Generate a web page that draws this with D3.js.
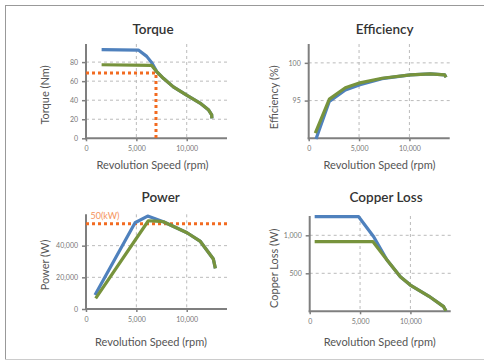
<!DOCTYPE html>
<html>
<head>
<meta charset="utf-8">
<script src="https://cdn.jsdelivr.net/npm/d3@7"></script>
<style>
body { margin: 0; background: #fff; }
text { font-family: Lato, "Open Sans", sans-serif; }
</style>
</head>
<body>
<script>
const width = 484;
const height = 361;

// torque (Nm)
const torqueRpmA = [1550, 5200, 6030, 6550, 7020, 7680, 8670, 10030, 11320, 12150, 12480, 12500];
const torqueA = [93, 92.6, 86, 79, 70, 63, 54, 45, 37, 30, 24.5, 21];
const torqueRpmB = [1550, 6520, 7020, 7680, 8670, 10030, 11320, 12150, 12480, 12500];
const torqueB = [77.2, 76.5, 70, 63, 54, 45, 37, 30, 24.5, 21];
const torqueRef = [6950, 68.5];

// efficiency (%)
const effRpmA = [725, 2050, 3640, 5090, 7280, 10090, 12080, 13510, 13640];
const effA = [89.9, 94.9, 96.4, 97.1, 97.9, 98.4, 98.55, 98.4, 98.1];
const effRpmB = [655, 2050, 3640, 5090, 7280, 10090, 12080, 13510, 13640];
const effB = [90.7, 95.2, 96.7, 97.35, 97.96, 98.4, 98.55, 98.4, 98.1];

// power (W)
const powRpmA = [894, 4870, 6120, 7680, 10030, 11320, 12645, 12845];
const powA = [8830, 54470, 58680, 55100, 48160, 42900, 31550, 25680];
const powRpmB = [960, 6190, 7350, 7680, 10030, 11320, 12645, 12845];
const powB = [6750, 55730, 55300, 55100, 48160, 42900, 31550, 25680];
const powRef = 53800;
const powRefLabel = '50(kW)';

// copper loss (W)
const cuRpmA = [493, 4863, 6352, 7676, 9000, 9990, 11810, 13300, 13535];
const cuA = [1245, 1245, 982, 675, 455, 346, 201, 61, 4];
const cuRpmB = [493, 6286, 7676, 9000, 9990, 11810, 13300, 13535];
const cuB = [916, 916, 675, 455, 346, 201, 61, 4];

const xTicks = [0, 5000, 10000];

const svg = d3.select('body').append('svg').attr('width', width).attr('height', height);

// frame
svg.append('line').attr('x1', 5).attr('x2', width).attr('y1', 5.5).attr('y2', 5.5).attr('stroke', '#999');
svg.append('line').attr('x1', 5.5).attr('x2', 5.5).attr('y1', 5).attr('y2', 359).attr('stroke', '#999');
svg.append('line').attr('x1', 5).attr('x2', width).attr('y1', 359.5).attr('y2', 359.5).attr('stroke', '#ccc');

const panels = [
  {title: 'Torque', ylab: 'Torque (Nm)', left: 86, top: 44, bottom: 138.3, ydom: [0, 99], yticks: [0, 20, 40, 60, 80],
   tx: 153, ty: 34, lx: 152.5, ly: 169, yx: 45, yy: 95,
   series: [[torqueRpmA, torqueA], [torqueRpmB, torqueB]]},
  {title: 'Efficiency', ylab: 'Efficiency (%)', left: 308.7, top: 44, bottom: 138.3, ydom: [90, 102.5], yticks: [95, 100],
   tx: 384.7, ty: 34, lx: 379.5, ly: 169, yx: 273.7, yy: 97.3,
   series: [[effRpmA, effA], [effRpmB, effB]]},
  {title: 'Power', ylab: 'Power (W)', left: 86, top: 214.3, bottom: 309, ydom: [0, 59800], yticks: [0, 20000, 40000],
   tx: 160.7, ty: 202, lx: 151, ly: 346, yx: 45, yy: 265,
   series: [[powRpmA, powA], [powRpmB, powB]]},
  {title: 'Copper Loss', ylab: 'Copper Loss (W)', left: 309.7, top: 216, bottom: 311.3, ydom: [0, 1254], yticks: [500, 1000],
   tx: 386, ty: 202, lx: 379.7, ly: 346, yx: 273.7, yy: 268.3,
   series: [[cuRpmA, cuA], [cuRpmB, cuB]]}
];

const colors = ['#4f81bd', '#77933c'];

panels.forEach((p, pi) => {
  const x = d3.scaleLinear().domain([0, 14000]).range([p.left, p.left + 141]);
  const y = d3.scaleLinear().domain(p.ydom).range([p.bottom, p.top]);
  const g = svg.append('g');

  // grid
  g.selectAll('.hg').data(p.yticks.filter(v => v !== p.ydom[0])).enter().append('line')
    .attr('x1', p.left).attr('x2', p.left + 141)
    .attr('y1', d => y(d)).attr('y2', d => y(d))
    .attr('stroke', '#bbb').attr('stroke-dasharray', '3,3');
  g.selectAll('.vg').data(xTicks.slice(1)).enter().append('line')
    .attr('x1', d => x(d)).attr('x2', d => x(d))
    .attr('y1', p.top).attr('y2', p.bottom)
    .attr('stroke', '#bbb').attr('stroke-dasharray', '3,3');

  // axes
  const xAxis = g.append('g').attr('transform', `translate(0,${p.bottom})`)
    .call(d3.axisBottom(x).tickValues(xTicks).tickSize(3).tickFormat(d3.format(',')));
  const yAxis = g.append('g').attr('transform', `translate(${p.left},0)`)
    .call(d3.axisLeft(y).tickValues(p.yticks).tickSize(4).tickFormat(d3.format(',')));
  [xAxis, yAxis].forEach(a => {
    a.select('.domain').attr('stroke', '#7f7f7f').attr('stroke-width', 2);
    a.selectAll('.tick line').attr('stroke', '#7f7f7f').attr('stroke-width', 1.5);
    a.selectAll('.tick text').attr('fill', '#777').style('font-size', '7px').style('font-family', 'Lato, sans-serif');
  });
  xAxis.select('.domain').attr('d', `M${p.left - 1},0H${p.left + 141}`);
  yAxis.select('.domain').attr('d', `M0,${p.top}V${p.bottom + 1}`);
  xAxis.selectAll('.tick text').attr('dy', '1.1em').attr('y', 5);
  yAxis.selectAll('.tick text').attr('x', -8);

  // reference lines
  if (pi === 0) {
    g.append('path')
      .attr('d', d3.line()([[x(0), y(torqueRef[1])], [x(torqueRef[0]), y(torqueRef[1])], [x(torqueRef[0]), y(0)]]))
      .attr('fill', 'none').attr('stroke', '#f26b21').attr('stroke-width', 3).attr('stroke-dasharray', '3,3');
  }
  if (pi === 2) {
    g.append('line').attr('x1', x(0)).attr('x2', x(14000)).attr('y1', y(powRef)).attr('y2', y(powRef))
      .attr('stroke', '#f26b21').attr('stroke-width', 3).attr('stroke-dasharray', '3,3');
    g.append('text').attr('x', p.left + 4.5).attr('y', y(powRef) - 4.5).attr('fill', '#f5935a')
      .style('font-size', '9px').text(powRefLabel);
  }

  // series
  const line = d3.line().x(d => x(d[0])).y(d => y(d[1]));
  p.series.forEach((s, si) => {
    const pts = s[0].map((r, i) => [r, s[1][i]]);
    g.append('path').attr('d', line(pts)).attr('fill', 'none')
      .attr('stroke', colors[si]).attr('stroke-width', 3.2).attr('stroke-linejoin', 'round');
  });

  // texts
  g.append('text').attr('x', p.tx).attr('y', p.ty).attr('text-anchor', 'middle')
    .attr('fill', '#333').style('font-size', '13.5px').style('font-weight', 600).text(p.title);
  g.append('text').attr('x', p.lx).attr('y', p.ly).attr('text-anchor', 'middle')
    .attr('fill', '#555').style('font-size', '11px').text('Revolution Speed (rpm)');
  g.append('text').attr('transform', `translate(${p.yx},${p.yy}) rotate(-90)`).attr('dy', '0.35em')
    .attr('text-anchor', 'middle').attr('fill', '#555').style('font-size', '11px').text(p.ylab);
});
</script>
</body>
</html>
